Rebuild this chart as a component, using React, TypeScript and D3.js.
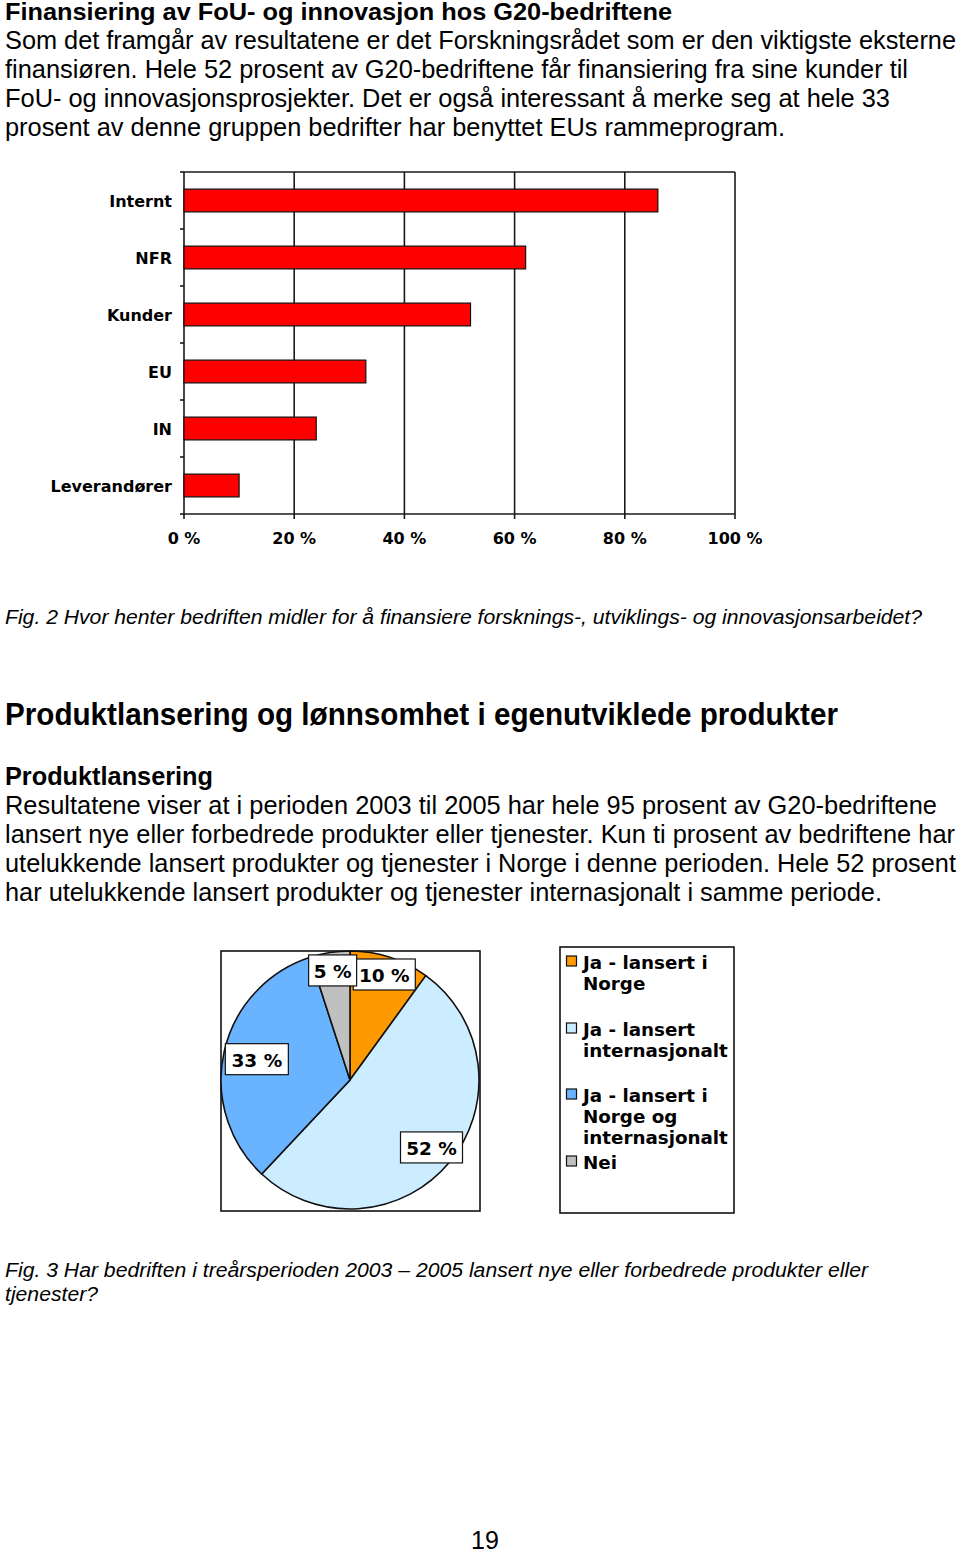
import React from "react";
import * as d3 from "d3";

// ---------- Data ----------
const barCategories = ["Internt", "NFR", "Kunder", "EU", "IN", "Leverandører"];
const barValues = [86, 62, 52, 33, 24, 10];
const xTicks = [0, 20, 40, 60, 80, 100];
const xTickLabels = ["0 %", "20 %", "40 %", "60 %", "80 %", "100 %"];

const pieCategories = [
  "Ja - lansert i Norge",
  "Ja - lansert internasjonalt",
  "Ja - lansert i Norge og internasjonalt",
  "Nei",
];
const pieValues = [10, 52, 33, 5];
const pieLabels = ["10 %", "52 %", "33 %", "5 %"];
const legendLines = [
  ["Ja - lansert i", "Norge"],
  ["Ja - lansert", "internasjonalt"],
  ["Ja - lansert i", "Norge og", "internasjonalt"],
  ["Nei"],
];

// ---------- Styles / layout ----------
const pieColors = ["#FF9900", "#CCECFF", "#6AB4FF", "#C0C0C0"];
const labelRadiusFactor = [0.86, 0.82, 0.74, 0.86];
const ARIAL = "'Liberation Sans', Arial, sans-serif";
const VERDANA = "'DejaVu Sans', Verdana, sans-serif";

type Line = { text: string; y: number; w: number };

const topPara: Line[] = [
  { text: "Som det framgår av resultatene er det Forskningsrådet som er den viktigste eksterne", y: 49, w: 951 },
  { text: "finansiøren. Hele 52 prosent av G20-bedriftene får finansiering fra sine kunder til", y: 78, w: 903 },
  { text: "FoU- og innovasjonsprosjekter. Det er også interessant å merke seg at hele 33", y: 107, w: 885 },
  { text: "prosent av denne gruppen bedrifter har benyttet EUs rammeprogram.", y: 136, w: 780 },
];
const bodyPara: Line[] = [
  { text: "Resultatene viser at i perioden 2003 til 2005 har hele 95 prosent av G20-bedriftene", y: 814, w: 932 },
  { text: "lansert nye eller forbedrede produkter eller tjenester. Kun ti prosent av bedriftene har", y: 843, w: 950 },
  { text: "utelukkende lansert produkter og tjenester i Norge i denne perioden. Hele 52 prosent", y: 872, w: 951 },
  { text: "har utelukkende lansert produkter og tjenester internasjonalt i samme periode.", y: 901, w: 877 },
];

function BarChart() {
  const x0 = 184, x1 = 735, yTop = 172, yBot = 514;
  const x = d3.scaleLinear().domain([0, 100]).range([x0, x1]);
  const y = d3.scaleBand<string>().domain(barCategories).range([yTop, yBot]).paddingInner(0.6).paddingOuter(0.3);
  const step = y.step();
  const stroke = "#1a1a1a";
  return (
    <g>
      {xTicks.map((t) => (
        <line key={"g" + t} x1={x(t)} x2={x(t)} y1={yTop} y2={yBot + 5} stroke={stroke} strokeWidth={1.6} />
      ))}
      <line x1={x0} x2={x1} y1={yTop} y2={yTop} stroke={stroke} strokeWidth={1.6} />
      <line x1={x0} x2={x1} y1={yBot} y2={yBot} stroke={stroke} strokeWidth={1.6} />
      {barCategories.map((c, i) => (
        <line key={"yt" + i} x1={x0 - 4} x2={x0} y1={yTop + step * (i + 1)} y2={yTop + step * (i + 1)} stroke={stroke} strokeWidth={1.6} />
      ))}
      <line x1={x0 - 4} x2={x0} y1={yTop} y2={yTop} stroke={stroke} strokeWidth={1.6} />
      {barCategories.map((c, i) => (
        <rect key={c} x={x(0)} y={y(c)!} width={x(barValues[i]) - x(0)} height={y.bandwidth()} fill="#FF0000" stroke="#111" strokeWidth={1.2} />
      ))}
      {barCategories.map((c) => (
        <text key={"l" + c} x={172} y={y(c)! + y.bandwidth() / 2 + 1} textAnchor="end" dominantBaseline="central" fontFamily={VERDANA} fontWeight="bold" fontSize={16} fill="#000">
          {c}
        </text>
      ))}
      {xTicks.map((t, i) => (
        <text key={"xl" + t} x={x(t)} y={538} textAnchor="middle" dominantBaseline="central" fontFamily={VERDANA} fontWeight="bold" fontSize={16} fill="#000">
          {xTickLabels[i]}
        </text>
      ))}
    </g>
  );
}

function PieChart() {
  const cx = 350, cy = 1080, r = 129;
  const pie = d3.pie<number>().sort(null).value((d) => d);
  const arcs = pie(pieValues);
  const arc = d3.arc<d3.PieArcDatum<number>>().innerRadius(0).outerRadius(r);
  const boxW = [62, 62, 63, 48];
  return (
    <g>
      <rect x={221} y={951} width={259} height={260} fill="#fff" stroke="#111" strokeWidth={1.6} />
      <g transform={`translate(${cx},${cy})`}>
        {arcs.map((a, i) => (
          <path key={i} d={arc(a)!} fill={pieColors[i]} stroke="#111" strokeWidth={1.6} />
        ))}
        {arcs.map((a, i) => {
          const lr = r * labelRadiusFactor[i];
          const [lx, ly] = d3.arc<d3.PieArcDatum<number>>().innerRadius(lr).outerRadius(lr).centroid(a);
          const w = boxW[i], h = 31;
          return (
            <g key={"lb" + i} transform={`translate(${lx},${ly})`}>
              <rect x={-w / 2} y={-h / 2} width={w} height={h} fill="#fff" stroke="#111" strokeWidth={1.2} />
              <text x={0} y={1} textAnchor="middle" dominantBaseline="central" fontFamily={VERDANA} fontWeight="bold" fontSize={18.5} fill="#000">
                {pieLabels[i]}
              </text>
            </g>
          );
        })}
      </g>
      <rect x={560} y={947} width={174} height={266} fill="#fff" stroke="#111" strokeWidth={1.6} />
      {legendLines.map((lines, i) => {
        const tops = [962, 1029, 1095, 1162];
        const ty = tops[i];
        return (
          <g key={"lg" + i}>
            <rect x={566.5} y={ty - 6} width={10} height={10} fill={pieColors[i]} stroke="#111" strokeWidth={1.2} />
            <text fontFamily={VERDANA} fontWeight="bold" fontSize={18.3} fill="#000">
              {lines.map((ln, j) => (
                <tspan key={j} x={583} y={ty + j * 21} dominantBaseline="central">
                  {ln}
                </tspan>
              ))}
            </text>
          </g>
        );
      })}
    </g>
  );
}

function TextLine({ l, size, weight, italic }: { l: Line; size: number; weight?: string; italic?: boolean }) {
  return (
    <text x={5} y={l.y} fontFamily={ARIAL} fontSize={size} fontWeight={weight || "normal"} fontStyle={italic ? "italic" : "normal"} textLength={l.w} lengthAdjust="spacingAndGlyphs" fill="#000">
      {l.text}
    </text>
  );
}

export default function App() {
  return (
    <svg width={960} height={1550} style={{ position: "absolute", left: 0, top: 0, background: "#fff" }}>
      <rect x={0} y={0} width={960} height={1550} fill="#fff" />
      <TextLine l={{ text: "Finansiering av FoU- og innovasjon hos G20-bedriftene", y: 20, w: 667 }} size={24} weight="bold" />
      {topPara.map((l, i) => (
        <TextLine key={i} l={l} size={26} />
      ))}
      <BarChart />
      <TextLine l={{ text: "Fig. 2 Hvor henter bedriften midler for å finansiere forsknings-, utviklings- og innovasjonsarbeidet?", y: 624, w: 917 }} size={20} italic />
      <TextLine l={{ text: "Produktlansering og lønnsomhet i egenutviklede produkter", y: 725, w: 833 }} size={31} weight="bold" />
      <TextLine l={{ text: "Produktlansering", y: 785, w: 208 }} size={26} weight="bold" />
      {bodyPara.map((l, i) => (
        <TextLine key={"b" + i} l={l} size={26} />
      ))}
      <PieChart />
      <TextLine l={{ text: "Fig. 3 Har bedriften i treårsperioden 2003 – 2005 lansert nye eller forbedrede produkter eller", y: 1277, w: 863 }} size={20} italic />
      <TextLine l={{ text: "tjenester?", y: 1301, w: 93 }} size={20} italic />
      <text x={485} y={1549} textAnchor="middle" fontFamily={ARIAL} fontSize={25} fill="#000">19</text>
    </svg>
  );
}
